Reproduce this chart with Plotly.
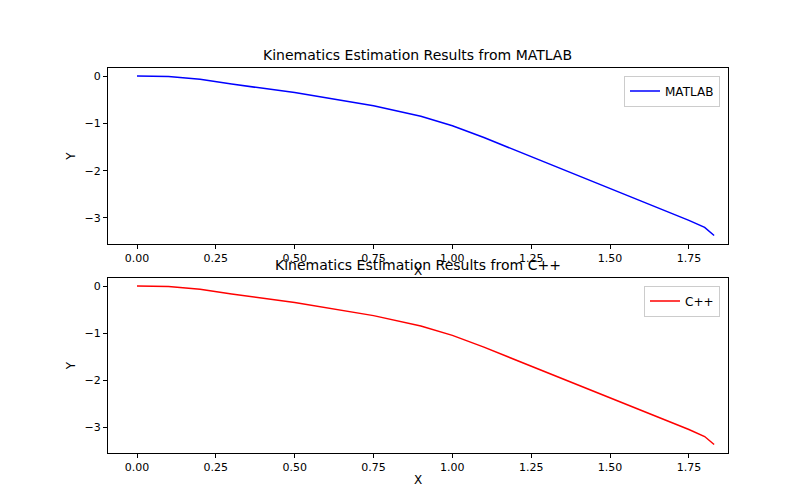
import plotly.graph_objects as go

x_vals = [0.0, 0.1, 0.2, 0.3, 0.5, 0.75, 0.9, 1.0, 1.1, 1.25, 1.5, 1.75, 1.8, 1.83]
y_matlab = [0.0, -0.01, -0.07, -0.17, -0.35, -0.63, -0.85, -1.05, -1.3, -1.7, -2.37, -3.05, -3.2, -3.37]
y_cpp = [0.0, -0.01, -0.07, -0.17, -0.35, -0.63, -0.85, -1.05, -1.3, -1.7, -2.37, -3.05, -3.2, -3.37]
x_ticks = [0.0, 0.25, 0.5, 0.75, 1.0, 1.25, 1.5, 1.75]
y_ticks = [0, -1, -2, -3]

fig = go.Figure()
fig.add_trace(go.Scatter(x=x_vals, y=y_matlab, mode="lines", name="MATLAB",
                         line=dict(color="blue", width=1.5),
                         xaxis="x", yaxis="y", legend="legend"))
fig.add_trace(go.Scatter(x=x_vals, y=y_cpp, mode="lines", name="C++",
                         line=dict(color="red", width=1.5),
                         xaxis="x2", yaxis="y2", legend="legend2"))

ax = dict(showline=True, mirror=True, linecolor="black", linewidth=1, ticks="outside",
          tickcolor="black", ticklen=4, showgrid=False, zeroline=False, automargin=False,
          tickfont=dict(size=11, color="black"))
fig.update_layout(
    width=800, height=500, plot_bgcolor="white", paper_bgcolor="white",
    margin=dict(l=0, r=0, t=0, b=0), showlegend=True,
    font=dict(family="DejaVu Sans", color="black"),
    xaxis=dict(ax, domain=[0.125, 0.9], range=[-0.092, 1.874], tickvals=x_ticks,
               ticktext=[f"{v:.2f}" for v in x_ticks], anchor="y",
               title=dict(text="X", font=dict(size=12), standoff=2)),
    yaxis=dict(ax, domain=[0.528, 0.88], range=[-3.55, 0.17], tickvals=y_ticks,
               ticktext=["0", "−1", "−2", "−3"], anchor="x",
               title=dict(text="Y", font=dict(size=12), standoff=6)),
    xaxis2=dict(ax, domain=[0.125, 0.9], range=[-0.092, 1.874], tickvals=x_ticks,
                ticktext=[f"{v:.2f}" for v in x_ticks], anchor="y2",
                title=dict(text="X", font=dict(size=12), standoff=2)),
    yaxis2=dict(ax, domain=[0.11, 0.46], range=[-3.55, 0.17], tickvals=y_ticks,
                ticktext=["0", "−1", "−2", "−3"], anchor="x2",
                title=dict(text="Y", font=dict(size=12), standoff=6)),
    legend=dict(x=0.89, y=0.865, xanchor="right", yanchor="top", bordercolor="#cccccc",
                borderwidth=1, font=dict(size=12)),
    legend2=dict(x=0.89, y=0.445, xanchor="right", yanchor="top", bordercolor="#cccccc",
                 borderwidth=1, font=dict(size=12)),
    annotations=[
        dict(text="Kinematics Estimation Results from MATLAB", x=0.5125, y=0.88,
             xref="paper", yref="paper", xanchor="center", yanchor="bottom",
             showarrow=False, font=dict(size=14), yshift=3),
        dict(text="Kinematics Estimation Results from C++", x=0.5125, y=0.46,
             xref="paper", yref="paper", xanchor="center", yanchor="bottom",
             showarrow=False, font=dict(size=14), yshift=3),
    ],
)
fig.write_html("out.html")
